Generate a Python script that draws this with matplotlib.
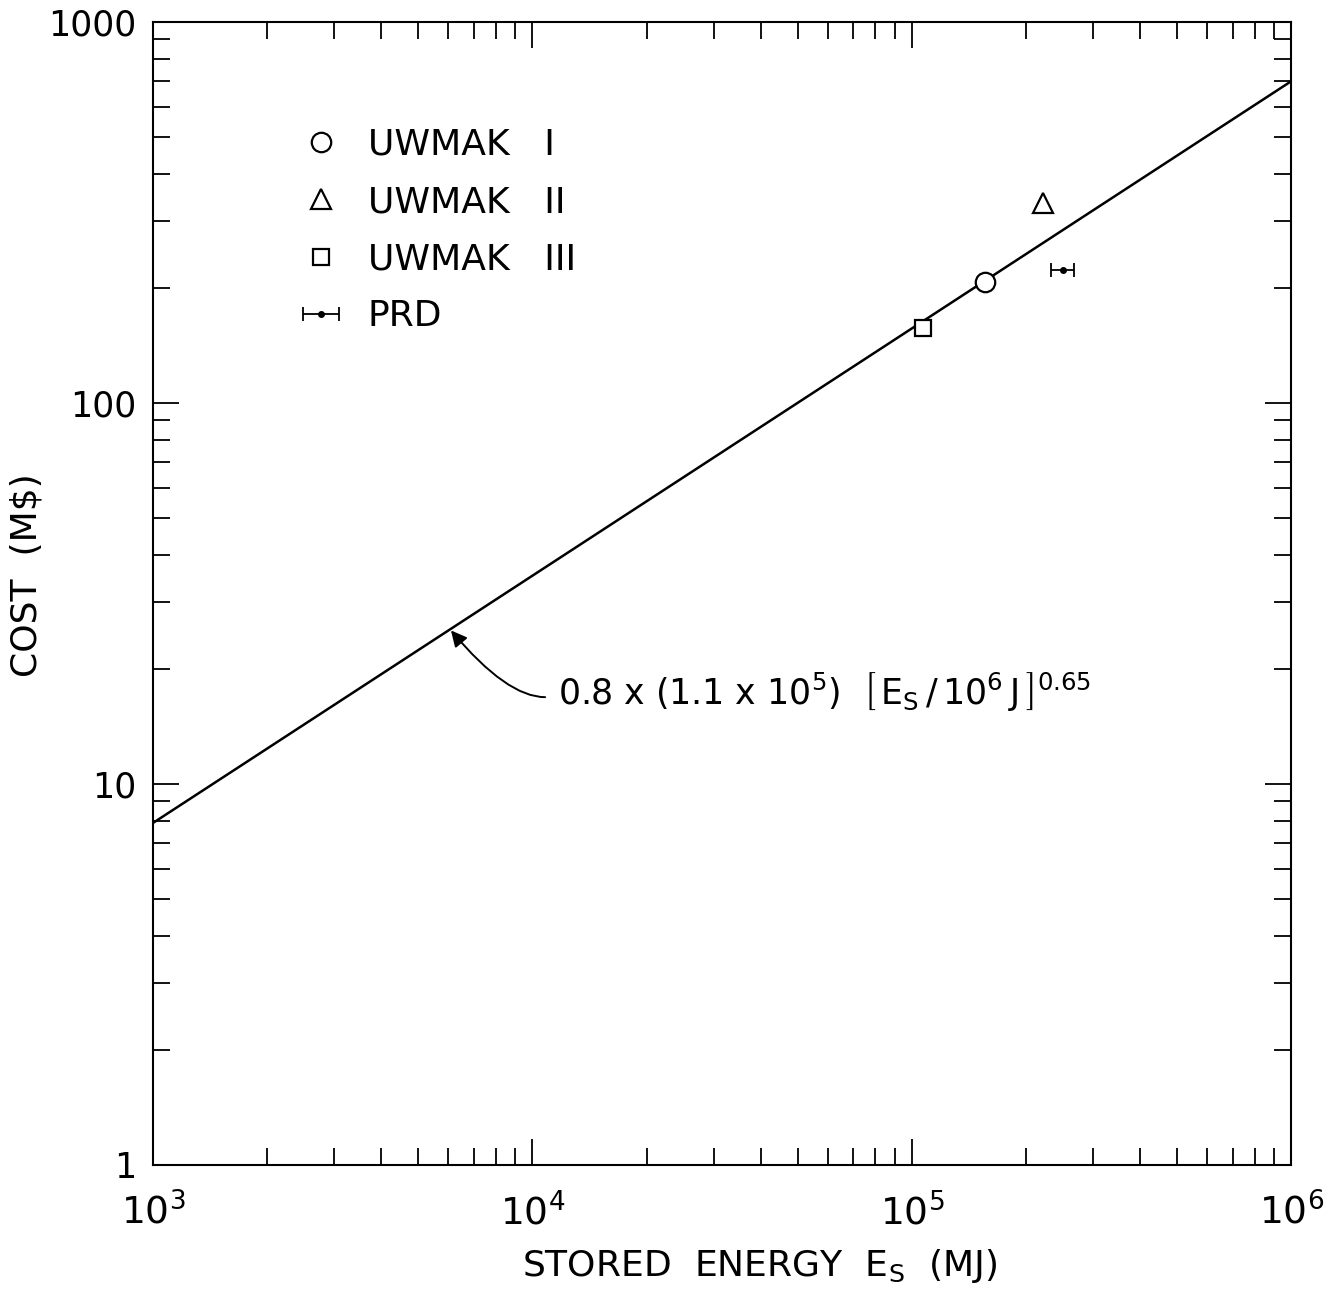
import matplotlib
matplotlib.use('Agg')
import matplotlib.pyplot as plt
from matplotlib.ticker import LogLocator, FixedLocator, NullFormatter

plt.rcParams['font.family'] = ['DejaVu Sans']
plt.rcParams['mathtext.fontset'] = 'dejavusans'
plt.rcParams['mathtext.default'] = 'regular'

fit_energy = [1e3, 1e6]
fit_cost = [7.9, 700]

# design points (stored energy MJ, cost M$)
uwmak1_energy, uwmak1_cost = [1.56e5], [208]
uwmak2_energy, uwmak2_cost = [2.22e5], [335]
uwmak3_energy, uwmak3_cost = [1.07e5], [157]
prd_energy, prd_cost = [2.5e5], [223]
prd_err_lo, prd_err_hi = [1.7e4], [1.8e4]

x_ticks = [1e3, 1e4, 1e5, 1e6]
x_ticklabels = ['$10^3$', '$10^4$', '$10^5$', '$10^6$']
y_ticks = [1, 10, 100, 1000]
y_ticklabels = ['1', '10', '100', '1000']

fig = plt.figure(figsize=(13.3, 12.98), dpi=100)
ax = fig.add_axes([0.115, 0.1025, 0.856, 0.8805])

ax.plot(fit_energy, fit_cost, color='black', lw=1.8, zorder=2)
h1, = ax.plot(uwmak1_energy, uwmak1_cost, 'o', ms=14, mfc='white', mec='black', mew=1.6, zorder=3)
h2, = ax.plot(uwmak2_energy, uwmak2_cost, '^', ms=14, mfc='white', mec='black', mew=1.6, zorder=3)
h3, = ax.plot(uwmak3_energy, uwmak3_cost, 's', ms=11, mfc='white', mec='black', mew=1.6, zorder=3)
h4 = ax.errorbar(prd_energy, prd_cost, xerr=[prd_err_lo, prd_err_hi], fmt='o', ms=4,
                 color='black', capsize=5, elinewidth=1.3, capthick=1.3, zorder=3)

ax.set_xscale('log')
ax.set_yscale('log')
ax.set_xlim(1e3, 1e6)
ax.set_ylim(1, 1000)

ax.xaxis.set_major_locator(FixedLocator(x_ticks))
ax.set_xticklabels(x_ticklabels)
ax.yaxis.set_major_locator(FixedLocator(y_ticks))
ax.set_yticklabels(y_ticklabels)
for axis in (ax.xaxis, ax.yaxis):
    axis.set_minor_locator(LogLocator(base=10, subs=range(2, 10)))
    axis.set_minor_formatter(NullFormatter())

ax.tick_params(which='both', direction='in', top=True, right=True, width=1.3)
ax.tick_params(which='major', length=19, labelsize=25)
ax.tick_params(which='minor', length=12)
ax.tick_params(axis='x', which='major', pad=20, labelsize=27)
ax.tick_params(axis='y', which='major', pad=12)
for sp in ax.spines.values():
    sp.set_linewidth(1.5)

ax.set_xlabel('STORED  ENERGY  E$_S$  (MJ)', fontsize=26)
ax.xaxis.set_label_coords(0.533, -0.072)
ax.set_ylabel('COST  (M\\$)', fontsize=26)
ax.yaxis.set_label_coords(-0.096, 0.516)

ax.legend([h1, h2, h3, h4],
          ['UWMAK   I', 'UWMAK   II', 'UWMAK   III', 'PRD'],
          loc='upper left', bbox_to_anchor=(0.119, 0.92), frameon=False,
          fontsize=26, handlelength=1.0, handletextpad=0.8, labelspacing=0.64,
          borderaxespad=0)

ax.text(1.17e4, 17.4, '0.8 x (1.1 x 10$^5$)  $\\left[\\,E_S\\,/\\,10^6\\,J\\,\\right]^{0.65}$',
        fontsize=25, va='center', ha='left')
ax.annotate('', xy=(6.1e3, 25.3), xytext=(1.08e4, 16.9),
            arrowprops=dict(arrowstyle='-|>', color='black', lw=1.4,
                            mutation_scale=24,
                            connectionstyle='angle3,angleA=0,angleB=-50',
                            shrinkA=0, shrinkB=0))

fig.savefig('out.png', dpi=100)
